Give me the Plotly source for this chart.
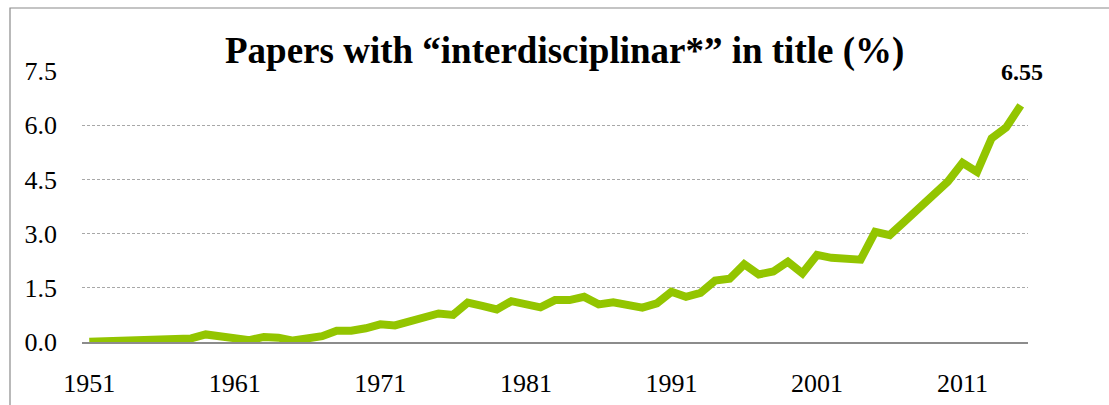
import plotly.graph_objects as go

years = list(range(1951, 2016))
share_pct = [
    0.01, 0.02, 0.03, 0.05, 0.07, 0.05, 0.05, 0.10, 0.21, 0.16,
    0.13, 0.05, 0.14, 0.12, 0.04, 0.12, 0.16, 0.31, 0.31, 0.38,
    0.49, 0.46, 0.56, 0.66, 0.79, 0.75, 1.09, 1.00, 0.90, 1.13,
    1.02, 0.96, 1.16, 1.16, 1.25, 1.04, 1.10, 1.04, 0.95, 1.07,
    1.39, 1.25, 1.36, 1.70, 1.75, 2.15, 1.87, 1.95, 2.22, 1.90,
    2.41, 2.33, 2.31, 2.28, 3.05, 2.96, 3.33, 3.70, 4.12, 4.44,
    4.96, 4.71, 5.64, 5.94, 6.55,
]
x_tick_years = [1951, 1961, 1971, 1981, 1991, 2001, 2011]
y_ticks = [0.0, 1.5, 3.0, 4.5, 6.0, 7.5]
y_tick_labels = ["0.0", "1.5", "3.0", "4.5", "6.0", "7.5"]
title_text = "Papers with \u201cinterdisciplinar*\u201d in title (%)"
last_label = "6.55"

FONT = "Liberation Serif, Times New Roman, serif"
GREEN = "#93C500"

PLOT_H = 405 - 71 - 63
PLOT_W = 1109 - 82 - 81

fig = go.Figure()
fig.add_trace(go.Scatter(
    x=years, y=share_pct, mode="lines",
    line=dict(color=GREEN, width=8),
    hoverinfo="x+y", showlegend=False,
))

fig.add_annotation(
    x=years[-1], y=share_pct[-1], text=f"<b>{last_label}</b>",
    showarrow=False, yshift=33, xshift=1,
    font=dict(family=FONT, size=24, color="black"),
)
fig.add_annotation(
    x=(564 - 82) / PLOT_W, y=1.0 + 20 / PLOT_H, xref="paper", yref="paper",
    text=f"<b>{title_text}</b>", showarrow=False, yanchor="middle",
    font=dict(family=FONT, size=37, color="black"),
)

fig.update_layout(
    width=1109, height=405,
    margin=dict(l=82, r=81, t=71, b=63, autoexpand=False),
    paper_bgcolor="white", plot_bgcolor="white",
    font=dict(family=FONT, size=26, color="black"),
    shapes=[dict(type="rect", xref="paper", yref="paper",
                 x0=-(82 - 10) / PLOT_W, x1=1.3,
                 y0=-0.6, y1=1.0 + (71 - 8) / PLOT_H,
                 line=dict(color="#8a8a8a", width=1.2), layer="below")],
)
fig.update_xaxes(
    range=[1950.5, 2015.5], tickvals=x_tick_years,
    ticktext=[str(v) for v in x_tick_years],
    showgrid=False, zeroline=False, automargin=False,
    showline=True, linecolor="#8c8c8c", linewidth=2,
    ticks="", ticklabelstandoff=17,
    tickfont=dict(family=FONT, size=26),
)
fig.update_yaxes(
    range=[0, 7.5], tickvals=y_ticks, ticktext=y_tick_labels,
    showgrid=True, gridcolor="#a8a8a8", gridwidth=1, griddash="3px,2px",
    zeroline=False, showline=False, ticks="", ticklabelstandoff=24,
    automargin=False, tickfont=dict(family=FONT, size=26),
)

fig.write_html(
    "out.html",
    config={"displayModeBar": False},
    post_script="document.body.style.margin='0';document.body.style.overflow='hidden';",
)
